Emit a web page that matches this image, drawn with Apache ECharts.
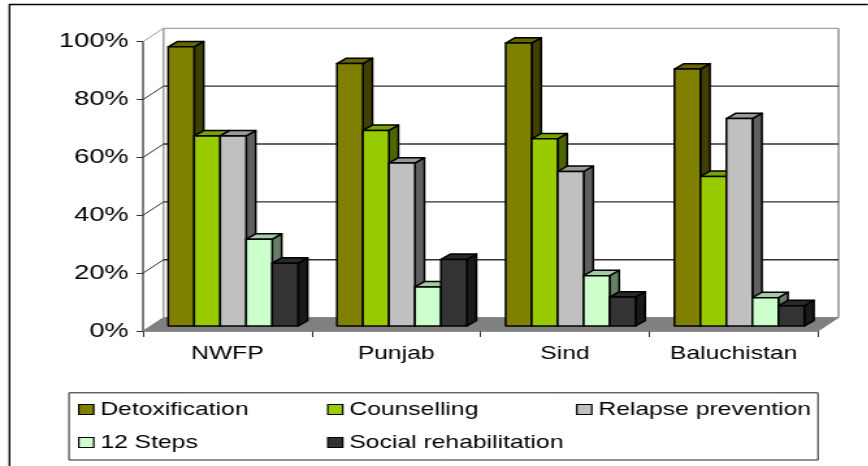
<!DOCTYPE html>
<html><head><meta charset="utf-8">
<style>html,body{margin:0;padding:0;background:#fff;overflow:hidden}#c{height:466px;transform-origin:0 0}</style>
<script src="https://cdn.jsdelivr.net/npm/echarts@6/dist/echarts.min.js"></script>
</head><body><div id="c"></div>
<script>
const categories = ['NWFP', 'Punjab', 'Sind', 'Baluchistan'];
const detoxification = [96.5, 90.7, 97.8, 88.8];
const counselling = [65.7, 67.6, 64.7, 51.7];
const relapsePrevention = [65.7, 56.3, 53.4, 71.7];
const twelveSteps = [30, 13.5, 17.4, 9.8];
const socialRehabilitation = [21.7, 23, 10, 7];
const tickValues = [0, 20, 40, 60, 80, 100];
const seriesNames = ['Detoxification', 'Counselling', 'Relapse prevention', '12 Steps', 'Social rehabilitation'];
const seriesValues = [detoxification, counselling, relapsePrevention, twelveSteps, socialRehabilitation];
const faceColors = [
  ['#808000', '#666600', '#404000'],
  ['#99CC00', '#7AA300', '#4D6600'],
  ['#C0C0C0', '#999999', '#606060'],
  ['#CCFFCC', '#A3CCA3', '#668066'],
  ['#333333', '#292929', '#1A1A1A']
];

// The source picture is stretched horizontally; the whole chart is laid out narrow and stretched the same way.
const S = 1.3;
const X = px => px / S;
const el = document.getElementById('c');
el.style.width = (868 / S) + 'px';
el.style.transform = 'scaleX(' + S + ')';
const chart = echarts.init(el);

const WALL_DX = X(20.5), WALL_DY = 13.4;
const BAR_SHIFT_X = X(5.8), BAR_SHIFT_Y = 5;
const BAR_DX = X(9.5), BAR_DY = 5.4;
const BAR_RATIO = 26 / 168.75;

function renderWall(params, api) {
  const r = params.coordinateSys || params.coordSys;
  const v = api.value(1);
  const y = api.coord([0, v])[1];
  const x0 = r.x, x1 = r.x + r.width;
  const kids = [];
  const isEdge = v === 0 || v === 100;
  const col = isEdge ? '#9a9a9a' : '#2a2a2a';
  if (v === 0) {
    kids.push({ type: 'polygon', shape: { points: [[x0, y], [x0 + WALL_DX, y - WALL_DY], [x1 + WALL_DX, y - WALL_DY], [x1, y]] },
      style: { fill: '#808080', stroke: '#808080', lineWidth: 1 } });
    kids.push({ type: 'line', shape: { x1: x0 + WALL_DX, y1: y - WALL_DY, x2: x0 + WALL_DX, y2: r.y - WALL_DY },
      style: { stroke: '#a0a0a0', lineWidth: 1.5 } });
    kids.push({ type: 'line', shape: { x1: x1 + WALL_DX, y1: y - WALL_DY, x2: x1 + WALL_DX, y2: r.y - WALL_DY },
      style: { stroke: '#909090', lineWidth: 1.5 } });
  } else {
    kids.push({ type: 'line', shape: { x1: x0 + WALL_DX, y1: y - WALL_DY, x2: x1 + WALL_DX, y2: y - WALL_DY },
      style: { stroke: isEdge ? '#a0a0a0' : '#303030', lineWidth: 1.3 } });
    kids.push({ type: 'line', shape: { x1: x0, y1: y, x2: x0 + WALL_DX, y2: y - WALL_DY },
      style: { stroke: col, lineWidth: 1 } });
  }
  return { type: 'group', children: kids };
}

function makeBarRenderer(si) {
  return function (params, api) {
    const i = api.value(0), v = api.value(1);
    const w = api.size([1, 0])[0] * BAR_RATIO;
    const top = api.coord([i, v]);
    const base = api.coord([i, 0]);
    const x0 = top[0] - 2.5 * w + si * w + BAR_SHIFT_X;
    const x1 = x0 + w;
    const yT = top[1] - BAR_SHIFT_Y, yB = base[1] - BAR_SHIFT_Y;
    const c = faceColors[si];
    const line = { stroke: '#000', lineWidth: 1.5, lineJoin: 'round' };
    return { type: 'group', children: [
      { type: 'polygon', shape: { points: [[x1, yT], [x1 + BAR_DX, yT - BAR_DY], [x1 + BAR_DX, yB - BAR_DY], [x1, yB]] }, style: Object.assign({ fill: c[2] }, line) },
      { type: 'polygon', shape: { points: [[x0, yT], [x0 + BAR_DX, yT - BAR_DY], [x1 + BAR_DX, yT - BAR_DY], [x1, yT]] }, style: Object.assign({ fill: c[1] }, line) },
      { type: 'rect', shape: { x: x0, y: yT, width: w, height: yB - yT }, style: Object.assign({ fill: c[0] }, line) }
    ] };
  };
}

const legendBase = {
  orient: 'vertical', selectedMode: false, icon: 'rect', itemWidth: X(15), itemHeight: 10, itemGap: 14, padding: 0,
  itemStyle: { borderColor: '#000', borderWidth: 1.2 },
  textStyle: { fontFamily: 'Liberation Sans', fontSize: 19, color: '#000' }
};

chart.setOption({
  animation: false,
  backgroundColor: '#fff',
  grid: { left: X(143), width: X(675), top: 41.7, height: 289.3 },
  xAxis: {
    type: 'category', data: categories,
    axisLine: { lineStyle: { color: '#808080', width: 1.5 } },
    axisTick: { show: true, length: 6, lineStyle: { color: '#333' } },
    axisLabel: { margin: 13, fontFamily: 'Liberation Sans', fontSize: 19, color: '#000' }
  },
  yAxis: {
    type: 'value', min: 0, max: 100, interval: 20,
    splitLine: { show: false },
    axisLine: { show: true, lineStyle: { color: '#555', width: 1.5 } },
    axisTick: { show: true, length: 5, lineStyle: { color: '#333' } },
    axisLabel: { margin: 11, formatter: '{value}%', fontFamily: 'Liberation Sans', fontSize: 21, color: '#000' }
  },
  legend: [
    Object.assign({}, legendBase, { left: X(78), top: 400, data: [seriesNames[0], seriesNames[3]] }),
    Object.assign({}, legendBase, { left: X(327), top: 400, data: [seriesNames[1], seriesNames[4]] }),
    Object.assign({}, legendBase, { left: X(576), top: 400, data: [seriesNames[2]] })
  ],
  graphic: [
    { type: 'polyline', z: 1, shape: { points: [[X(9.5), 466], [X(9.5), 4.5], [X(868), 4.5]] }, style: { fill: 'none', stroke: '#000', lineWidth: 1.4 } },
    { type: 'rect', z: 1, shape: { x: X(69), y: 392.8, width: X(749), height: 67.2 }, style: { fill: 'none', stroke: '#222', lineWidth: 1 } }
  ],
  series: [
    { type: 'custom', name: 'wall', silent: true, z: 1, data: tickValues.map(v => [0, v]), encode: { x: 0, y: 1 }, renderItem: renderWall }
  ].concat(seriesNames.map((name, si) => ({
    type: 'custom', name, z: 2 + si,
    itemStyle: { color: faceColors[si][0] },
    data: seriesValues[si].map((v, i) => [i, v]),
    encode: { x: 0, y: 1 },
    renderItem: makeBarRenderer(si)
  })))
});
</script></body></html>
